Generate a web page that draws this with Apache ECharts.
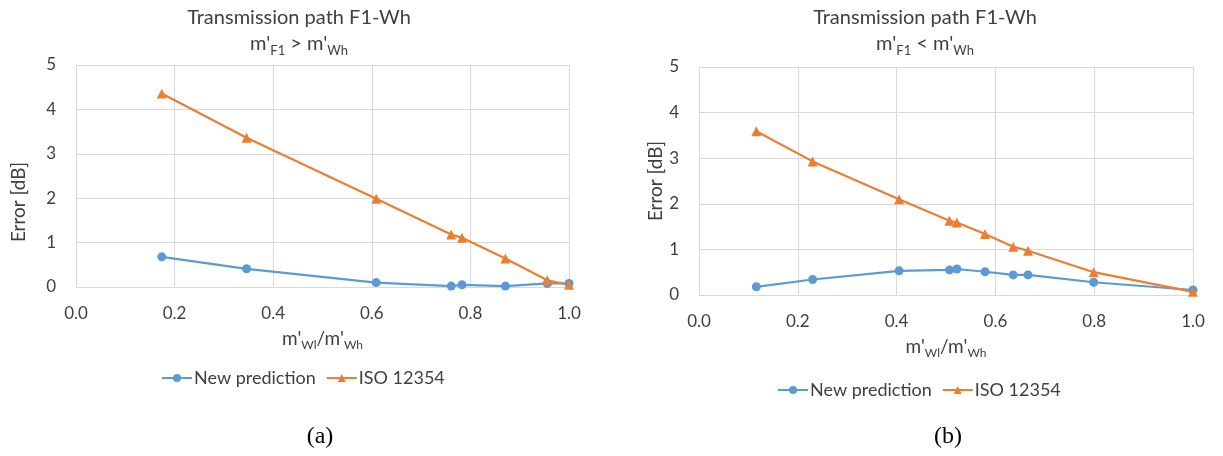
<!DOCTYPE html>
<html>
<head>
<meta charset="utf-8">
<title>Transmission path F1-Wh</title>
<script src="https://cdn.jsdelivr.net/npm/echarts@6/dist/echarts.min.js"></script>
<style>
	html, body { margin: 0; padding: 0; background: #fff; }
	#main { width: 1223px; height: 456px; }
</style>
</head>
<body>
<div id="main"></div>
<script>
// (a) m'F1 > m'Wh
var xLeft = [0.174, 0.346, 0.609, 0.761, 0.783, 0.871, 0.956, 1.0];
var newPredLeft = [0.68, 0.41, 0.10, 0.02, 0.05, 0.02, 0.08, 0.08];
var isoLeft = [4.36, 3.36, 1.99, 1.18, 1.11, 0.64, 0.15, 0.05];

// (b) m'F1 < m'Wh
var xRight = [0.116, 0.230, 0.405, 0.507, 0.522, 0.579, 0.636, 0.666, 0.799, 1.0];
var newPredRight = [0.18, 0.34, 0.53, 0.55, 0.57, 0.51, 0.44, 0.44, 0.28, 0.11];
var isoRight = [3.59, 2.93, 2.10, 1.63, 1.59, 1.34, 1.06, 0.97, 0.50, 0.07];

var seriesNames = ['New prediction', 'ISO 12354'];
var captions = ['(a)', '(b)'];

var blue = '#5b9bd5';
var orange = '#ed7d31';
var textColor = '#404040';
var gridColor = '#d9d9d9';
var font = 'Lato, "Open Sans", sans-serif';

function pairs(xs, ys) {
	var out = [];
	for (var i = 0; i < xs.length; i++) {
		out.push([xs[i], ys[i]]);
	}
	return out;
}

var subRich = {
	t: { fontSize: 20, lineHeight: 26, fontWeight: 'normal', color: textColor, fontFamily: font },
	s: { fontSize: 13, lineHeight: 14, fontWeight: 'normal', verticalAlign: 'bottom', color: textColor, fontFamily: font }
};
var nameRich = {
	n: { fontSize: 19, lineHeight: 24, color: textColor, fontFamily: font },
	s: { fontSize: 12, lineHeight: 13, verticalAlign: 'bottom', color: textColor, fontFamily: font }
};

function makeX(idx) {
	return {
		type: 'value',
		gridIndex: idx,
		min: 0,
		max: 1,
		interval: 0.2,
		name: "{n|m'}{s|Wl}{n|/m'}{s|Wh}",
		nameLocation: 'middle',
		nameGap: 40,
		nameTextStyle: { rich: nameRich },
		axisLine: { show: false },
		axisTick: { show: false },
		axisLabel: {
			margin: 18,
			color: textColor,
			fontSize: 17,
			fontFamily: font,
			formatter: function(v) { return v.toFixed(1); }
		},
		splitLine: { show: true, lineStyle: { color: gridColor, width: 1 } }
	};
}

function makeY(idx) {
	return {
		type: 'value',
		gridIndex: idx,
		min: 0,
		max: 5,
		interval: 1,
		name: 'Error [dB]',
		nameLocation: 'middle',
		nameGap: idx === 0 ? 48 : 34,
		nameTextStyle: {
			color: textColor,
			fontSize: 19,
			fontFamily: font,
			// left panel's label sits a bit lower than the plot centre
			padding: idx === 0 ? [0, 52, 0, 0] : 0
		},
		axisLine: { show: true, lineStyle: { color: gridColor } },
		axisTick: { show: false },
		axisLabel: { margin: 20, color: textColor, fontSize: 17, fontFamily: font },
		splitLine: { show: true, lineStyle: { color: gridColor, width: 1 } }
	};
}

function makeSeries(name, idx, data, color, symbol, size) {
	return {
		name: name,
		type: 'line',
		xAxisIndex: idx,
		yAxisIndex: idx,
		data: data,
		symbol: symbol,
		symbolSize: size,
		color: color,
		lineStyle: { width: 2.2, color: color },
		itemStyle: { color: color },
		animation: false
	};
}

var legendText = { color: textColor, fontSize: 18, fontFamily: font, padding: [0, 0, 0, -3] };
var captionStyle = { fontFamily: '"Liberation Serif", "Times New Roman", serif', fontSize: 24, fontWeight: 'normal', color: '#000' };

var myChart = echarts.init(document.getElementById('main'));

var option = {
	backgroundColor: '#fff',
	animation: false,
	title: [{
			left: 294,
			top: 0,
			textAlign: 'center',
			text: "{t|Transmission path F1-Wh}\n{t|m'}{s|F1}{t| > m'}{s|Wh}",
			textStyle: { fontWeight: 'normal', rich: subRich }
		},
		{
			left: 920,
			top: 0,
			textAlign: 'center',
			text: "{t|Transmission path F1-Wh}\n{t|m'}{s|F1}{t| < m'}{s|Wh}",
			textStyle: { fontWeight: 'normal', rich: subRich }
		},
		{ left: 315, top: 420, textAlign: 'center', text: captions[0], textStyle: captionStyle },
		{ left: 943, top: 420, textAlign: 'center', text: captions[1], textStyle: captionStyle }
	],
	legend: [{
			left: 156,
			top: 364,
			itemWidth: 30,
			itemHeight: 10,
			itemGap: 10,
			data: seriesNames,
			textStyle: legendText
		},
		{
			left: 772,
			top: 376,
			itemWidth: 30,
			itemHeight: 10,
			itemGap: 10,
			data: seriesNames,
			textStyle: legendText
		}
	],
	grid: [
		{ left: 76, right: 654, top: 65, bottom: 169 },
		{ left: 699, right: 30, top: 67, bottom: 161 }
	],
	xAxis: [makeX(0), makeX(1)],
	yAxis: [makeY(0), makeY(1)],
	series: [
		makeSeries(seriesNames[0], 0, pairs(xLeft, newPredLeft), blue, 'circle', 9),
		makeSeries(seriesNames[1], 0, pairs(xLeft, isoLeft), orange, 'triangle', 10),
		makeSeries(seriesNames[0], 1, pairs(xRight, newPredRight), blue, 'circle', 9),
		makeSeries(seriesNames[1], 1, pairs(xRight, isoRight), orange, 'triangle', 10)
	]
};

myChart.setOption(option);
</script>
</body>
</html>
